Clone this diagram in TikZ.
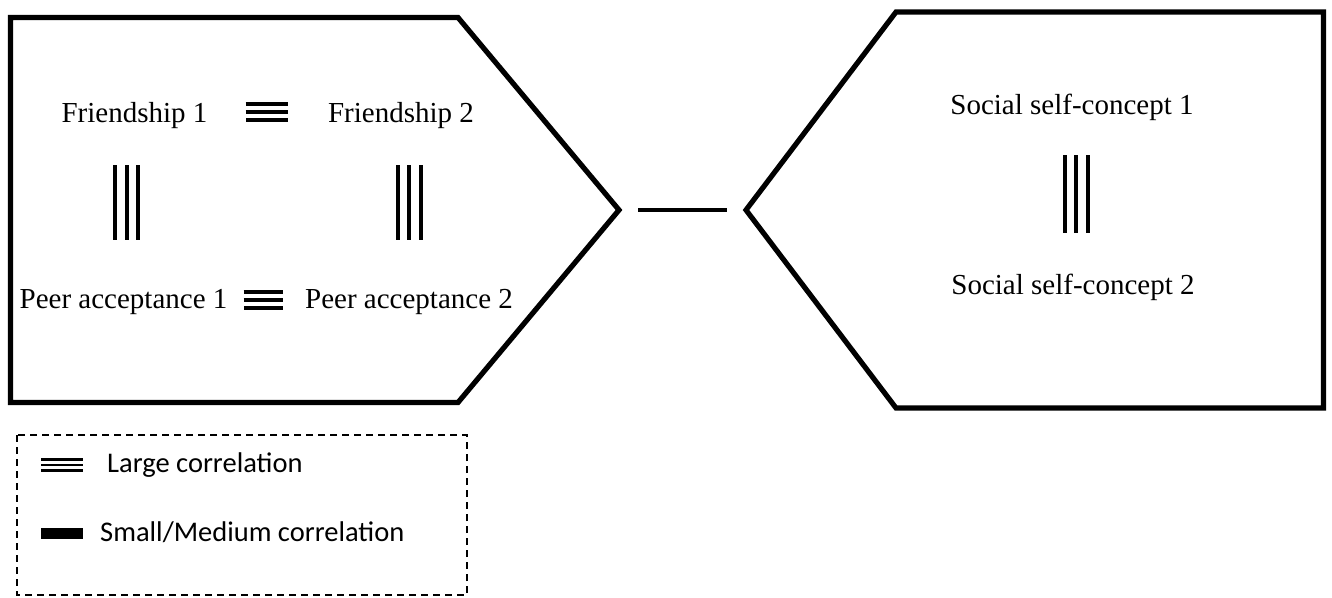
\documentclass[tikz,border=0pt]{standalone}
\usepackage{fontspec}
\setmainfont{Liberation Serif}
\newfontfamily\legendfont{Carlito}
\begin{document}
\begin{tikzpicture}[x=1pt,y=-1pt,
  lbl/.style={inner sep=0pt, anchor=base, font=\fontsize{29}{34}\selectfont},
  keytext/.style={inner sep=0pt, anchor=base west, font=\legendfont\fontsize{28.5}{34}\selectfont},
  frame/.style={draw=black, line width=5.2pt, line join=miter},
  large/.style={draw=black, line width=20pt,
    postaction={draw=white, line width=12pt},
    postaction={draw=black, line width=4pt}},
  largev/.style={draw=black, line width=27pt,
    postaction={draw=white, line width=19pt},
    postaction={draw=black, line width=4pt}},
  keylarge/.style={draw=black, line width=14pt,
    postaction={draw=white, line width=8.8pt},
    postaction={draw=black, line width=2.6pt}},
  keysmall/.style={draw=black, line width=11pt},
  small/.style={draw=black, line width=4pt},
  keybox/.style={draw=black, line width=1.5pt, dash pattern=on 7pt off 5pt}
]
\useasboundingbox (0,0) rectangle (1332,597);

% the two frames and the link between them
\coordinate (ltip) at (619,210);
\draw[frame] (10.5,17.5) -- (458,17.5) -- (ltip) -- (458,402.5) -- (10.5,402.5) -- cycle;
\coordinate (rtip) at (746,210);
\draw[frame] (rtip) -- (896,12) -- (1323.5,12) -- (1323.5,408) -- (896,408) -- cycle;
\draw[small] ([xshift=19pt]ltip) -- ([xshift=-19pt]rtip);

% variables
\node[lbl] (f1) at (134.5,122) {Friendship 1};
\node[lbl] (f2) at (401,122) {Friendship 2};
\node[lbl] (p1) at (123.5,308) {Peer acceptance 1};
\node[lbl] (p2) at (409,308) {Peer acceptance 2};
\node[lbl] (s1) at (1072,114) {Social self-concept 1};
\node[lbl] (s2) at (1073,294) {Social self-concept 2};

% large correlations
\draw[large] ([xshift=38pt,yshift=10pt]f1.base east) -- ([xshift=-40pt,yshift=10pt]f2.base west);
\draw[large] ([xshift=16pt,yshift=8pt]p1.base east) -- ([xshift=-22pt,yshift=8pt]p2.base west);
\draw[largev] ([xshift=-8pt,yshift=-43pt]f1.base) -- ([xshift=3pt,yshift=68pt]p1.base);
\draw[largev] ([xshift=8pt,yshift=-43pt]f2.base) -- ([yshift=68pt]p2.base);
\draw[largev] ([xshift=4pt,yshift=-41pt]s1.base) -- ([xshift=3pt,yshift=61pt]s2.base);

% legend
\draw[keybox] (17,435) rectangle (467,595);
\draw[keylarge] (41,465) -- (83,465);
\node[keytext] (k1) at (107,472) {Large correlation};
\draw[keysmall] (41,533) -- (83,533);
\node[keytext] (k2) at (100,541) {Small/Medium correlation};
\end{tikzpicture}
\end{document}
